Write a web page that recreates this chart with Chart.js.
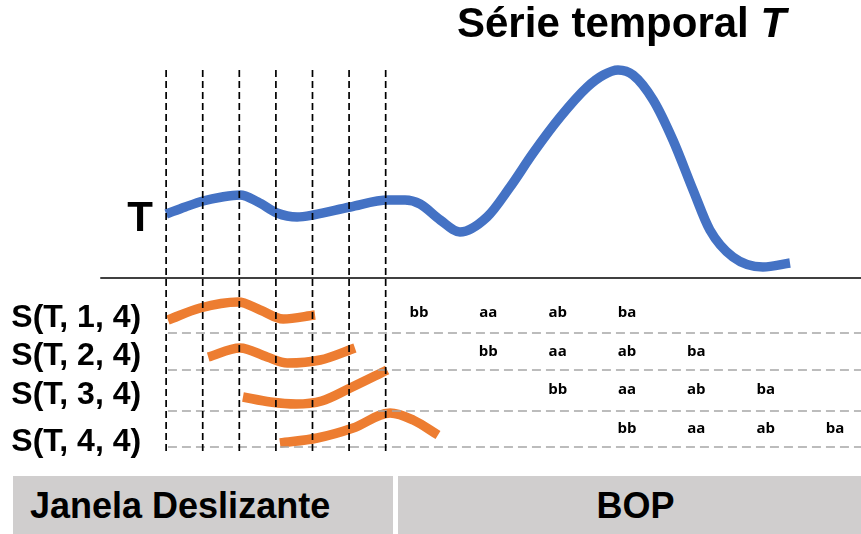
<!DOCTYPE html>
<html>
<head>
<meta charset="utf-8">
<script src="https://cdn.jsdelivr.net/npm/chart.js@4.4.1/dist/chart.umd.min.js"></script>
<style>
  html, body { margin: 0; padding: 0; background: #fff; }
  #wrap { position: relative; width: 861px; height: 534px; overflow: hidden; font-family: "Liberation Sans", Arial, sans-serif; }
  #diagram { position: absolute; left: 0; top: 0; }
  .title { position: absolute; left: 457px; top: 2px; font-size: 42px; line-height: 42px; font-weight: bold; white-space: pre; }
  .box { position: absolute; top: 476px; height: 58px; background: #d0cece; font-size: 36px; font-weight: bold; line-height: 60px; white-space: pre; }
</style>
</head>
<body>
<div id="wrap">
  <canvas id="diagram" width="861" height="534"></canvas>
  <div class="title">Série temporal <i>T</i></div>
  <div class="box" style="left:13px; width:363px; padding-left:17px;">Janela Deslizante</div>
  <div class="box" style="left:398px; width:463px; text-align:center; text-indent:12px;">BOP</div>
</div>
<script>
// Série temporal T, janela deslizante S(T, i, 4) e palavras BOP
// x = instante (1 unidade = 1 passo da janela), y = valor

const seriesTime  = [0, 0.52, 1.01, 1.53, 2.02, 2.51, 3.03, 3.58, 4.02, 5.03, 6.07, 6.53, 6.94, 7.49, 8.03,
                     8.77, 9.40, 10.03, 10.77, 11.51, 11.95, 12.35, 12.76, 13.31, 13.85, 14.40, 14.86, 15.49, 16.31, 17.05];
const seriesValue = [64, 71, 77, 81, 83, 76, 65, 61, 63, 71, 78, 78, 74, 58, 46,
                     61, 91, 125, 161, 191, 203, 208, 203, 178, 138, 88, 48, 21, 11, 15];

// sub-sequencias desenhadas abaixo do eixo
const windowS1 = [[0.05, -42], [0.93, -30], [1.97, -24], [2.57, -32], [3.20, -41], [4.07, -37]];
const windowS2 = [[1.15, -79], [2.02, -70], [2.76, -79], [3.31, -85], [4.21, -82], [5.16, -70]];
const windowS3 = [[2.10, -119], [2.85, -124], [3.55, -126], [4.25, -123], [5.03, -110], [6.04, -92]];
const windowS4 = [[3.11, -165], [4.13, -160], [5.11, -150], [6.12, -135], [6.75, -142], [7.43, -157]];

const windowBounds = [0, 1, 2, 3, 4, 5, 6];
const rowLabels = ['S(T, 1, 4)', 'S(T, 2, 4)', 'S(T, 3, 4)', 'S(T, 4, 4)'];
const bopWords = ['bb', 'aa', 'ab', 'ba'];

// layout
const X_MIN = -4.54, X_MAX = 18.99;
const Y_MIN = -256, Y_MAX = 278;
const boundTop = 208, boundBottom = -177;
const rowSeparators = [-55, -92, -133, -169];
const rowBaselines = [-49, -87, -126, -173];
const bopRowCenters = [-35, -74, -112, -151];
const bopStart = 6.91, bopStep = 1.895;

const BLUE = '#4472c4';
const ORANGE = '#ed7d31';

function toPoints(pairs) {
    return pairs.map(p => ({ x: p[0], y: p[1] }));
}

const datasets = [];

// linhas tracejadas verticais (limites das janelas)
windowBounds.forEach(t => {
    datasets.push({
        data: [{ x: t, y: boundTop }, { x: t, y: boundBottom }],
        borderColor: '#000', borderWidth: 1.7, borderDash: [7, 4], order: 0
    });
});

// separadores cinza entre as linhas
rowSeparators.forEach(v => {
    datasets.push({
        data: [{ x: 0.05, y: v }, { x: X_MAX, y: v }],
        borderColor: '#a6a6a6', borderWidth: 1.5, borderDash: [9, 5], order: 1
    });
});

// eixo
datasets.push({
    data: [{ x: -1.8, y: 0 }, { x: X_MAX, y: 0 }],
    borderColor: '#000', borderWidth: 1.6, order: 1
});

// serie T
datasets.push({
    data: seriesTime.map((t, i) => ({ x: t, y: seriesValue[i] })),
    borderColor: BLUE, borderWidth: 9.5, cubicInterpolationMode: 'monotone', order: 2
});

[windowS1, windowS2, windowS3, windowS4].forEach(w => {
    datasets.push({
        data: toPoints(w),
        borderColor: ORANGE, borderWidth: 9.5, cubicInterpolationMode: 'monotone', order: 2
    });
});

const textPlugin = {
    id: 'diagramText',
    afterDatasetsDraw(chart) {
        const { ctx, scales: { x, y } } = chart;
        ctx.save();
        ctx.fillStyle = '#000';
        ctx.textBaseline = 'alphabetic';

        // rotulo da serie
        ctx.font = 'bold 42px "Liberation Sans", Arial, sans-serif';
        ctx.textAlign = 'center';
        ctx.fillText('T', x.getPixelForValue(-0.71), y.getPixelForValue(47));

        // rotulos das janelas
        ctx.font = 'bold 32px "Liberation Sans", Arial, sans-serif';
        ctx.textAlign = 'left';
        rowLabels.forEach((lbl, i) => {
            ctx.fillText(lbl, x.getPixelForValue(X_MIN + 0.31), y.getPixelForValue(rowBaselines[i]));
        });

        // palavras BOP, deslocadas uma coluna por linha
        ctx.font = 'bold 15px "Open Sans", Lato, sans-serif';
        ctx.textAlign = 'center';
        ctx.textBaseline = 'middle';
        bopRowCenters.forEach((v, row) => {
            bopWords.forEach((w, k) => {
                const t = bopStart + (row + k) * bopStep;
                ctx.fillText(w, x.getPixelForValue(t), y.getPixelForValue(v));
            });
        });
        ctx.restore();
    }
};

new Chart(document.getElementById('diagram').getContext('2d'), {
    type: 'line',
    data: { datasets: datasets },
    options: {
        responsive: false,
        animation: false,
        layout: { padding: 0 },
        elements: {
            point: { radius: 0, hoverRadius: 0 },
            line: { fill: false, borderCapStyle: 'butt', borderJoinStyle: 'round' }
        },
        scales: {
            x: { type: 'linear', min: X_MIN, max: X_MAX, display: false },
            y: { type: 'linear', min: Y_MIN, max: Y_MAX, display: false }
        },
        plugins: {
            legend: { display: false },
            tooltip: { enabled: false }
        }
    },
    plugins: [textPlugin]
});
</script>
</body>
</html>
